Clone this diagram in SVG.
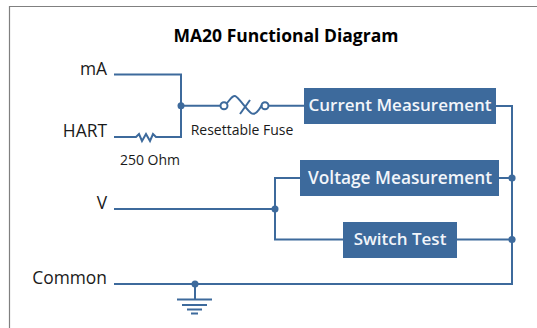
<svg xmlns="http://www.w3.org/2000/svg" width="537" height="328" viewBox="0 0 537 328">
<style>
text{font-family:"Open Sans","Noto Sans",sans-serif;fill:#1a1a1a}
.w{fill:none;stroke:#3d6a9c;stroke-width:2}
.d{fill:#3d6a9c}
.box{fill:#3d6a9c}
.bl{fill:#f2f5fa;font-weight:600;font-size:17px;text-anchor:middle}
.lbl{font-size:17.400px}
.sm{font-size:14px}
</style>
<rect width="537" height="328" fill="#fff"/>
<path d="M9.500 328V6.500H537" fill="none" stroke="#808080" stroke-width="1.200"/>
<text x="286" y="42" text-anchor="middle" font-size="17.500" font-weight="700" style="fill:#000">MA20 Functional Diagram</text>
<g id="connectors">
<path class="w" d="M114 74.500H181V137H156L153 134L150 141L146 134L142 141L139 134L136 137H114"/>
<path class="w" d="M181 105.700H220.500"/>
<circle class="d" cx="181" cy="105.700" r="3.500"/>
<path class="w" d="M268.500 105.700H304"/>
<path class="w" d="M496 106H512V284H114"/>
<path class="w" d="M499 178H512M457 239.500H512"/>
<circle class="d" cx="512" cy="178" r="3.600"/>
<circle class="d" cx="512" cy="239.500" r="3.600"/>
<path class="w" d="M114 209H275M300 178H275V239.500H343"/>
<circle class="d" cx="275" cy="209" r="3.500"/>
<circle class="d" cx="195" cy="284" r="3.500"/>
<path class="w" d="M195 284V299.500M177 299.500H212M182 305H207M187 309.500H202M191 313.500H198"/>
</g>
<g id="node-fuse">
<circle class="w" cx="224" cy="105.700" r="3.500"/>
<circle class="w" cx="265" cy="105.700" r="3.500"/>
<path class="w" d="M227 103C230 100 232 95.500 235 96C238 96.500 247 110 251 113C255 116 259 110 262 105"/>
<path class="w" d="M240 114L250 100"/>
<text class="sm" x="242" y="135" text-anchor="middle">Resettable Fuse</text>
</g>
<g id="node-ohm"><text class="sm" x="150" y="165" text-anchor="middle">250 Ohm</text></g>
<g id="node-ma"><text class="lbl" x="107" y="75" text-anchor="end">mA</text></g>
<g id="node-hart"><text class="lbl" x="107" y="137" text-anchor="end">HART</text></g>
<g id="node-v"><text class="lbl" x="107" y="209" text-anchor="end">V</text></g>
<g id="node-common"><text class="lbl" x="107" y="284" text-anchor="end">Common</text></g>
<g id="node-current"><rect class="box" x="304" y="88" width="192" height="36"/><text class="bl" x="400" y="111">Current Measurement</text></g>
<g id="node-voltage"><rect class="box" x="300" y="160" width="199" height="36"/><text class="bl" x="400" y="184" font-size="17.300" style="font-size:17.300px">Voltage Measurement</text></g>
<g id="node-switch"><rect class="box" x="343" y="222" width="114" height="36"/><text class="bl" x="400" y="245">Switch Test</text></g>
</svg>
